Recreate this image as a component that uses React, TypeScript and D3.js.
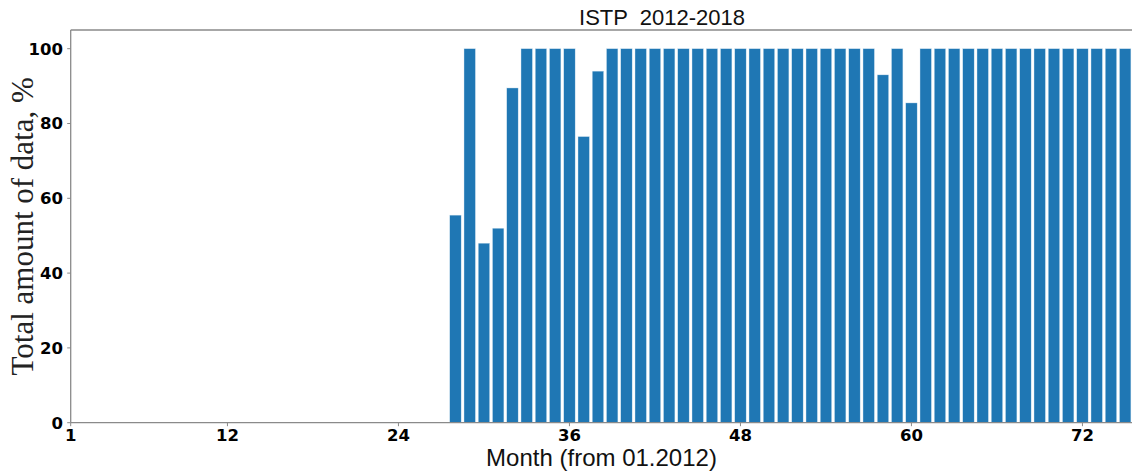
import React from "react";
import * as d3 from "d3";

const months: number[] = Array.from({ length: 75 }, (_, i) => i + 1);
const values: number[] = [
  0, 0, 0, 0, 0, 0, 0, 0, 0, 0, 0, 0, // 1-12
  0, 0, 0, 0, 0, 0, 0, 0, 0, 0, 0, 0, // 13-24
  0, 0, 0, 55.5, 100, 48, 52, 89.5, 100, 100, 100, 100, // 25-36
  76.5, 94, 100, 100, 100, 100, 100, 100, 100, 100, 100, 100, // 37-48
  100, 100, 100, 100, 100, 100, 100, 100, 100, 93, 100, 85.5, // 49-60
  100, 100, 100, 100, 100, 100, 100, 100, 100, 100, 100, 100, // 61-72
  100, 100, 100, // 73-75
];
const xTicks: number[] = [1, 12, 24, 36, 48, 60, 72];
const yTicks: number[] = [0, 20, 40, 60, 80, 100];
const title = "ISTP  2012-2018";
const xLabel = "Month (from 01.2012)";
const yLabel = "Total amount of data, %";

const W = 1132;
const H = 472;

export default function App() {
  const left = 70.7;
  const top = 30;
  const bottom = 422.7;
  const pxPerMonth = 14.25;
  const x = d3
    .scaleLinear()
    .domain([1, 77.4])
    .range([left, left + 76.4 * pxPerMonth]);
  const y = d3.scaleLinear().domain([0, 105]).range([bottom, top]);
  const barW = 0.8;
  const axisColor = "#8a8a8a";
  const tickFont = "'DejaVu Sans', sans-serif";

  return (
    <svg
      width={W}
      height={H}
      style={{ position: "absolute", left: 0, top: 0, background: "#fff" }}
    >
      <rect x={0} y={0} width={W} height={H} fill="#fff" />
      {months.map((m, i) =>
        values[i] > 0 ? (
          <rect
            key={m}
            x={x(m - barW / 2)}
            width={x(m + barW / 2) - x(m - barW / 2)}
            y={y(values[i])}
            height={y(0) - y(values[i])}
            fill="#1f77b4"
            stroke="#d6e6f2"
            strokeWidth={0.4}
          />
        ) : null
      )}
      {/* spines */}
      <line x1={left} x2={W} y1={top} y2={top} stroke={axisColor} strokeWidth={1.3} />
      <line x1={left} x2={W} y1={bottom} y2={bottom} stroke={axisColor} strokeWidth={1.3} />
      <line x1={left} x2={left} y1={top} y2={bottom} stroke={axisColor} strokeWidth={1.3} />
      {/* x ticks */}
      {xTicks.map((t) => (
        <g key={"x" + t}>
          <line x1={x(t)} x2={x(t)} y1={bottom} y2={bottom + 3.5} stroke={axisColor} strokeWidth={1} />
          <text
            x={x(t)}
            y={441}
            textAnchor="middle"
            fontFamily={tickFont}
            fontWeight="bold"
            fontSize={16.5}
            fill="#000"
          >
            {t}
          </text>
        </g>
      ))}
      {/* y ticks */}
      {yTicks.map((t) => (
        <g key={"y" + t}>
          <line x1={left - 3.5} x2={left} y1={y(t)} y2={y(t)} stroke={axisColor} strokeWidth={1} />
          <text
            x={63}
            y={y(t)}
            dy="0.36em"
            textAnchor="end"
            fontFamily={tickFont}
            fontWeight="bold"
            fontSize={16.5}
            fill="#000"
          >
            {t}
          </text>
        </g>
      ))}
      <text
        x={662}
        y={25}
        textAnchor="middle"
        fontFamily="'Liberation Sans', Arial, sans-serif"
        fontSize={22}
        fill="#111"
        style={{ whiteSpace: "pre" }}
        xmlSpace="preserve"
      >
        {title}
      </text>
      <text
        x={601.5}
        y={466}
        textAnchor="middle"
        fontFamily="'Liberation Sans', Arial, sans-serif"
        fontSize={24}
        fill="#111"
      >
        {xLabel}
      </text>
      <text
        transform={`translate(33, ${(top + bottom) / 2}) rotate(-90)`}
        textAnchor="middle"
        fontFamily="'Liberation Serif', 'Times New Roman', serif"
        fontSize={31}
        fill="#222"
      >
        {yLabel}
      </text>
    </svg>
  );
}
